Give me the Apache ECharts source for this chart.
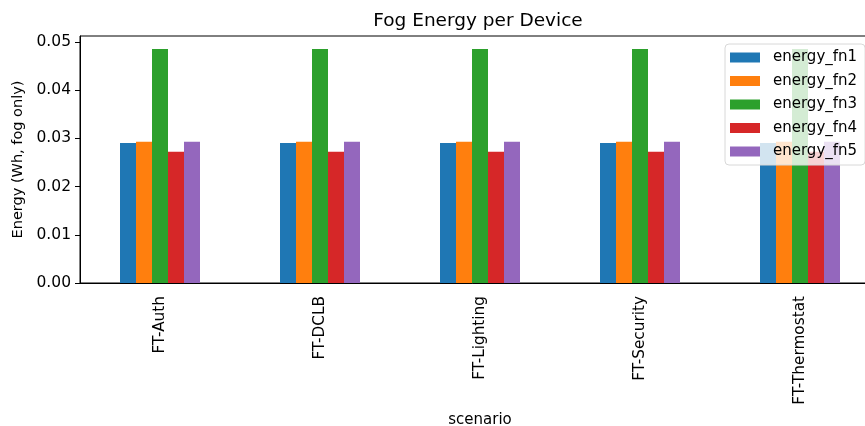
<!DOCTYPE html>
<html>
<head>
<meta charset="utf-8">
<script src="https://cdn.jsdelivr.net/npm/echarts@6/dist/echarts.min.js"></script>
<style>html,body{margin:0;padding:0;background:#fff}#c{width:865px;height:426px}</style>
</head>
<body>
<div id="c"></div>
<script>
const categories = ['FT-Auth', 'FT-DCLB', 'FT-Lighting', 'FT-Security', 'FT-Thermostat'];
const seriesNames = ['energy_fn1', 'energy_fn2', 'energy_fn3', 'energy_fn4', 'energy_fn5'];
const energy_fn1 = [0.0290, 0.0290, 0.0290, 0.0290, 0.0290];
const energy_fn2 = [0.0293, 0.0293, 0.0293, 0.0293, 0.0293];
const energy_fn3 = [0.0485, 0.0485, 0.0485, 0.0485, 0.0485];
const energy_fn4 = [0.0272, 0.0272, 0.0272, 0.0272, 0.0272];
const energy_fn5 = [0.0293, 0.0293, 0.0293, 0.0293, 0.0293];
const yTicks = [0, 0.01, 0.02, 0.03, 0.04, 0.05];
const colors = ['#1f77b4', '#ff7f0e', '#2ca02c', '#d62728', '#9467bd'];
const allData = [energy_fn1, energy_fn2, energy_fn3, energy_fn4, energy_fn5];

const font = 'DejaVu Sans';
const chart = echarts.init(document.getElementById('c'), null, {renderer: 'canvas'});
chart.setOption({
  animation: false,
  textStyle: {fontFamily: font},
  title: {
    text: 'Fog Energy per Device', left: 473, top: 7, textAlign: 'center',
    textStyle: {fontFamily: font, fontSize: 18.5, fontWeight: 'normal', color: '#000'}
  },
  legend: {
    left: 725, top: 44, orient: 'vertical', itemWidth: 30, itemHeight: 10, itemGap: 8.5,
    padding: [6, 8, 6, 5],
    backgroundColor: 'rgba(255,255,255,0.8)', borderColor: '#d8d8d8', borderWidth: 1, borderRadius: 4,
    icon: 'rect',
    textStyle: {fontFamily: font, fontSize: 15, color: '#000', padding: [0, 0, 0, 8]},
    data: seriesNames
  },
  grid: {left: 80, width: 800, top: 36, height: 247, show: true, borderColor: '#000', borderWidth: 1,
    backgroundColor: 'transparent', containLabel: false, outerBoundsMode: 'none'},
  xAxis: {
    type: 'category', data: categories,
    name: 'scenario', nameLocation: 'middle', nameGap: 120,
    nameTextStyle: {fontFamily: font, fontSize: 15, color: '#000'},
    axisLine: {lineStyle: {color: '#000'}},
    axisTick: {alignWithLabel: true, length: 5, lineStyle: {color: '#000'}},
    axisLabel: {rotate: 90, fontFamily: font, fontSize: 15.3, color: '#000', margin: 13},
    splitLine: {show: false}
  },
  yAxis: {
    type: 'value', min: 0, max: 0.0512, interval: 0.01,
    name: 'Energy (Wh, fog only)', nameLocation: 'middle', nameGap: 53,
    nameTextStyle: {fontFamily: font, fontSize: 14.5, color: '#000'},
    axisLine: {show: true, lineStyle: {color: '#000'}},
    axisTick: {show: true, length: 5, lineStyle: {color: '#000'}, customValues: yTicks},
    axisLabel: {fontFamily: font, fontSize: 15.5, color: '#000', margin: 9, customValues: yTicks,
      formatter: v => v.toFixed(2)},
    splitLine: {show: false}
  },
  series: seriesNames.map((n, i) => ({
    name: n, type: 'bar', data: allData[i], barWidth: 16, barGap: '0%',
    itemStyle: {color: colors[i]}, z: 2
  }))
});
</script>
</body>
</html>
